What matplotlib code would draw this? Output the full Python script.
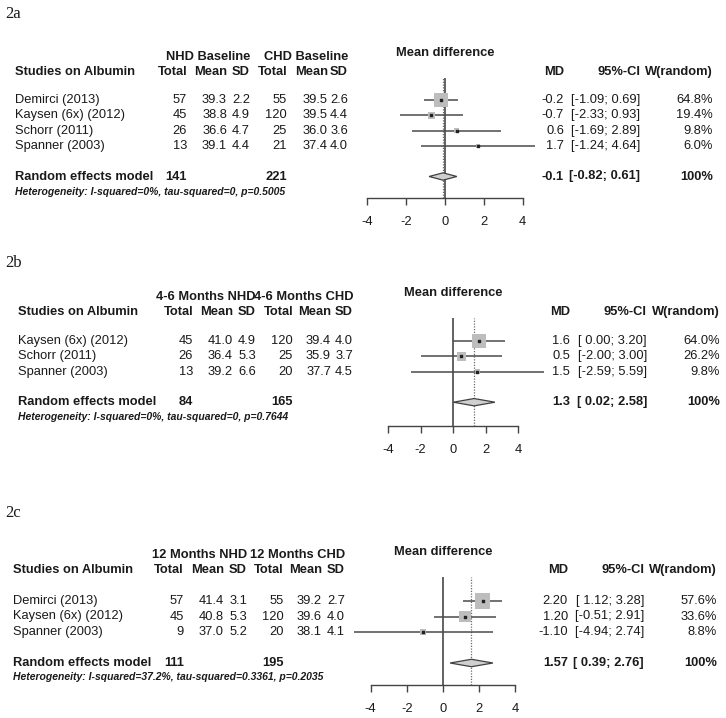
import matplotlib
matplotlib.use("Agg")
import matplotlib.pyplot as plt

plt.rcParams['font.family'] = ['Liberation Sans', 'DejaVu Sans']
plt.rcParams['axes.unicode_minus'] = False

# ---- data: 2a (baseline)
studies_a = ["Demirci (2013)", "Kaysen (6x) (2012)", "Schorr (2011)", "Spanner (2003)"]
nhd_n_a = [57, 45, 26, 13]
nhd_mean_a = [39.3, 38.8, 36.6, 39.1]
nhd_sd_a = [2.2, 4.9, 4.7, 4.4]
chd_n_a = [55, 120, 25, 21]
chd_mean_a = [39.5, 39.5, 36.0, 37.4]
chd_sd_a = [2.6, 4.4, 3.6, 4.0]
md_a = [-0.2, -0.7, 0.6, 1.7]
lo_a = [-1.09, -2.33, -1.69, -1.24]
hi_a = [0.69, 0.93, 2.89, 4.64]
w_a = [64.8, 19.4, 9.8, 6.0]
pooled_a = [-0.1, -0.82, 0.61]
totals_a = [141, 221]
het_a = "Heterogeneity: I-squared=0%, tau-squared=0, p=0.5005"

# ---- data: 2b (4-6 months)
studies_b = ["Kaysen (6x) (2012)", "Schorr (2011)", "Spanner (2003)"]
nhd_n_b = [45, 26, 13]
nhd_mean_b = [41.0, 36.4, 39.2]
nhd_sd_b = [4.9, 5.3, 6.6]
chd_n_b = [120, 25, 20]
chd_mean_b = [39.4, 35.9, 37.7]
chd_sd_b = [4.0, 3.7, 4.5]
md_b = [1.6, 0.5, 1.5]
lo_b = [0.00, -2.00, -2.59]
hi_b = [3.20, 3.00, 5.59]
w_b = [64.0, 26.2, 9.8]
pooled_b = [1.3, 0.02, 2.58]
totals_b = [84, 165]
het_b = "Heterogeneity: I-squared=0%, tau-squared=0, p=0.7644"

# ---- data: 2c (12 months)
studies_c = ["Demirci (2013)", "Kaysen (6x) (2012)", "Spanner (2003)"]
nhd_n_c = [57, 45, 9]
nhd_mean_c = [41.4, 40.8, 37.0]
nhd_sd_c = [3.1, 5.3, 5.2]
chd_n_c = [55, 120, 20]
chd_mean_c = [39.2, 39.6, 38.1]
chd_sd_c = [2.7, 4.0, 4.1]
md_c = [2.20, 1.20, -1.10]
lo_c = [1.12, -0.51, -4.94]
hi_c = [3.28, 2.91, 2.74]
w_c = [57.6, 33.6, 8.8]
pooled_c = [1.57, 0.39, 2.76]
totals_c = [111, 195]
het_c = "Heterogeneity: I-squared=37.2%, tau-squared=0.3361, p=0.2035"

W, H = 726, 718
fig = plt.figure(figsize=(W / 100, H / 100), dpi=100)
tx = fig.add_axes([0, 0, 1, 1])
tx.set_xlim(0, W)
tx.set_ylim(H, 0)
tx.axis('off')

TC = '#1a1a1a'
FS = 9.3

panels = [
    dict(tag="2a", groups=["NHD Baseline", "CHD Baseline"], studies=studies_a,
         nn=nhd_n_a, nm=nhd_mean_a, ns=nhd_sd_a, cn=chd_n_a, cm=chd_mean_a, cs=chd_sd_a,
         md=md_a, lo=lo_a, hi=hi_a, w=w_a, pooled=pooled_a, totals=totals_a, het=het_a, dec=1,
         tag_y=14, h1=57, h2=72, mdy=53, y0=100, dy=15.3, hy=192,
         x0=445, sc=19.4, top=78, base=198, box=17,
         cols=[15, 187, 227, 250, 287, 328, 348], rcols=[564, 640, 713]),
    dict(tag="2b", groups=["4-6 Months NHD", "4-6 Months CHD"], studies=studies_b,
         nn=nhd_n_b, nm=nhd_mean_b, ns=nhd_sd_b, cn=chd_n_b, cm=chd_mean_b, cs=chd_sd_b,
         md=md_b, lo=lo_b, hi=hi_b, w=w_b, pooled=pooled_b, totals=totals_b, het=het_b, dec=1,
         tag_y=263, h1=297, h2=312, mdy=293, y0=341, dy=15.3, hy=417,
         x0=453, sc=16.25, top=318, base=426, box=18,
         cols=[18, 193, 233, 256, 293, 331, 353], rcols=[570, 647, 720]),
    dict(tag="2c", groups=["12 Months NHD", "12 Months CHD"], studies=studies_c,
         nn=nhd_n_c, nm=nhd_mean_c, ns=nhd_sd_c, cn=chd_n_c, cm=chd_mean_c, cs=chd_sd_c,
         md=md_c, lo=lo_c, hi=hi_c, w=w_c, pooled=pooled_c, totals=totals_c, het=het_c, dec=2,
         tag_y=513, h1=555, h2=570, mdy=552, y0=601, dy=15.5, hy=677,
         x0=443, sc=18.1, top=577, base=685, box=20,
         cols=[13, 184, 224, 247, 284, 322, 345], rcols=[568, 644, 717]),
]

for p in panels:
    c = p['cols']
    rc = p['rcols']
    n = len(p['studies'])
    ys = [p['y0'] + p['dy'] * i for i in range(n)]
    ysum = p['y0'] + p['dy'] * (n + 1)

    tx.text(5, p['tag_y'], p['tag'], fontsize=12, family='Liberation Serif', color=TC, va='center')

    # headers
    tx.text(c[3], p['h1'], p['groups'][0], fontsize=FS, weight='bold', ha='right', va='center', color=TC)
    tx.text(c[6], p['h1'], p['groups'][1], fontsize=FS, weight='bold', ha='right', va='center', color=TC)
    tx.text(c[0], p['h2'], "Studies on Albumin", fontsize=FS, weight='bold', va='center', color=TC)
    for x, lab in zip(c[1:], ["Total", "Mean", "SD", "Total", "Mean", "SD"]):
        tx.text(x, p['h2'], lab, fontsize=FS, weight='bold', ha='right', va='center', color=TC)
    for x, lab in zip(rc, ["MD", "95%-CI", "W(random)"]):
        tx.text(x, p['h2'], lab, fontsize=FS, weight='bold', ha='right', va='center', color=TC)
    tx.text(p['x0'], p['mdy'], "Mean difference", fontsize=FS, weight='bold',
            ha='center', va='center', color=TC)

    # study rows
    fmt = "{:.%df}" % p['dec']
    for i in range(n):
        y = ys[i]
        tx.text(c[0], y, p['studies'][i], fontsize=FS, va='center', color=TC)
        vals = [str(p['nn'][i]), "%.1f" % p['nm'][i], "%.1f" % p['ns'][i],
                str(p['cn'][i]), "%.1f" % p['cm'][i], "%.1f" % p['cs'][i]]
        for x, v in zip(c[1:], vals):
            tx.text(x, y, v, fontsize=FS, ha='right', va='center', color=TC)
        tx.text(rc[0], y, fmt.format(p['md'][i]), fontsize=FS, ha='right', va='center', color=TC)
        ci = "[{:5.2f}; {:.2f}]".format(p['lo'][i], p['hi'][i])
        tx.text(rc[1], y, ci, fontsize=FS, ha='right', va='center', color=TC)
        tx.text(rc[2], y, "{:.1f}%".format(p['w'][i]), fontsize=FS, ha='right', va='center', color=TC)

    # summary row
    tx.text(c[0], ysum, "Random effects model", fontsize=FS, weight='bold', va='center', color=TC)
    tx.text(c[1], ysum, str(p['totals'][0]), fontsize=FS, weight='bold', ha='right', va='center', color=TC)
    tx.text(c[4], ysum, str(p['totals'][1]), fontsize=FS, weight='bold', ha='right', va='center', color=TC)
    est, plo, phi = p['pooled']
    tx.text(rc[0], ysum, fmt.format(est), fontsize=FS, weight='bold', ha='right', va='center', color=TC)
    tx.text(rc[1], ysum, "[{:5.2f}; {:.2f}]".format(plo, phi), fontsize=FS, weight='bold',
            ha='right', va='center', color=TC)
    tx.text(rc[2], ysum, "100%", fontsize=FS, weight='bold', ha='right', va='center', color=TC)
    tx.text(c[0], p['hy'], p['het'], fontsize=7.5, weight='bold', style='italic', va='center', color=TC)

    # forest axes
    left = (p['x0'] - 4 * p['sc']) / W
    width = 8 * p['sc'] / W
    bottom = 1 - p['base'] / H
    height = (p['base'] - p['top']) / H
    ax = fig.add_axes([left, bottom, width, height])
    ax.patch.set_visible(False)
    ax.set_xlim(-4, 4)
    ax.set_ylim((p['base'] - p['y0']) / p['dy'], (p['top'] - p['y0']) / p['dy'])
    for s in ['left', 'right', 'top']:
        ax.spines[s].set_visible(False)
    ax.spines['bottom'].set_bounds(-4, 4)
    ax.spines['bottom'].set_color('#444444')
    ax.spines['bottom'].set_linewidth(1.0)
    ax.set_yticks([])
    ax.set_xticks([-4, -2, 0, 2, 4])
    ax.tick_params(axis='x', direction='out', length=5, width=1.0, color='#444444',
                   labelsize=FS, labelcolor=TC, pad=8)

    ax.axvline(0, color='#383838', lw=1.1, zorder=1)
    ax.axvline(est, color='#6a6a6a', lw=0.9, ls=(0, (1, 1.2)), zorder=1)

    rows = list(range(n))
    ax.hlines(rows, p['lo'], p['hi'], color='#4a4a4a', lw=1.1, clip_on=False, zorder=2)
    sizes = [(p['box'] * (wi / 100) ** 0.5 * 0.72) ** 2 for wi in p['w']]
    ax.scatter(p['md'], rows, s=sizes, marker='s', color='#bdbdbd', edgecolors='none',
               clip_on=False, zorder=3)
    ax.scatter(p['md'], rows, s=4, marker='s', color='#222222', clip_on=False, zorder=4)

    r = n + 1
    hh = 0.24
    ax.fill([plo, est, phi, est], [r, r - hh, r, r + hh], facecolor='#cfcfcf',
            edgecolor='#404040', lw=0.9, clip_on=False, zorder=3)

fig.savefig("out.png", dpi=100)
